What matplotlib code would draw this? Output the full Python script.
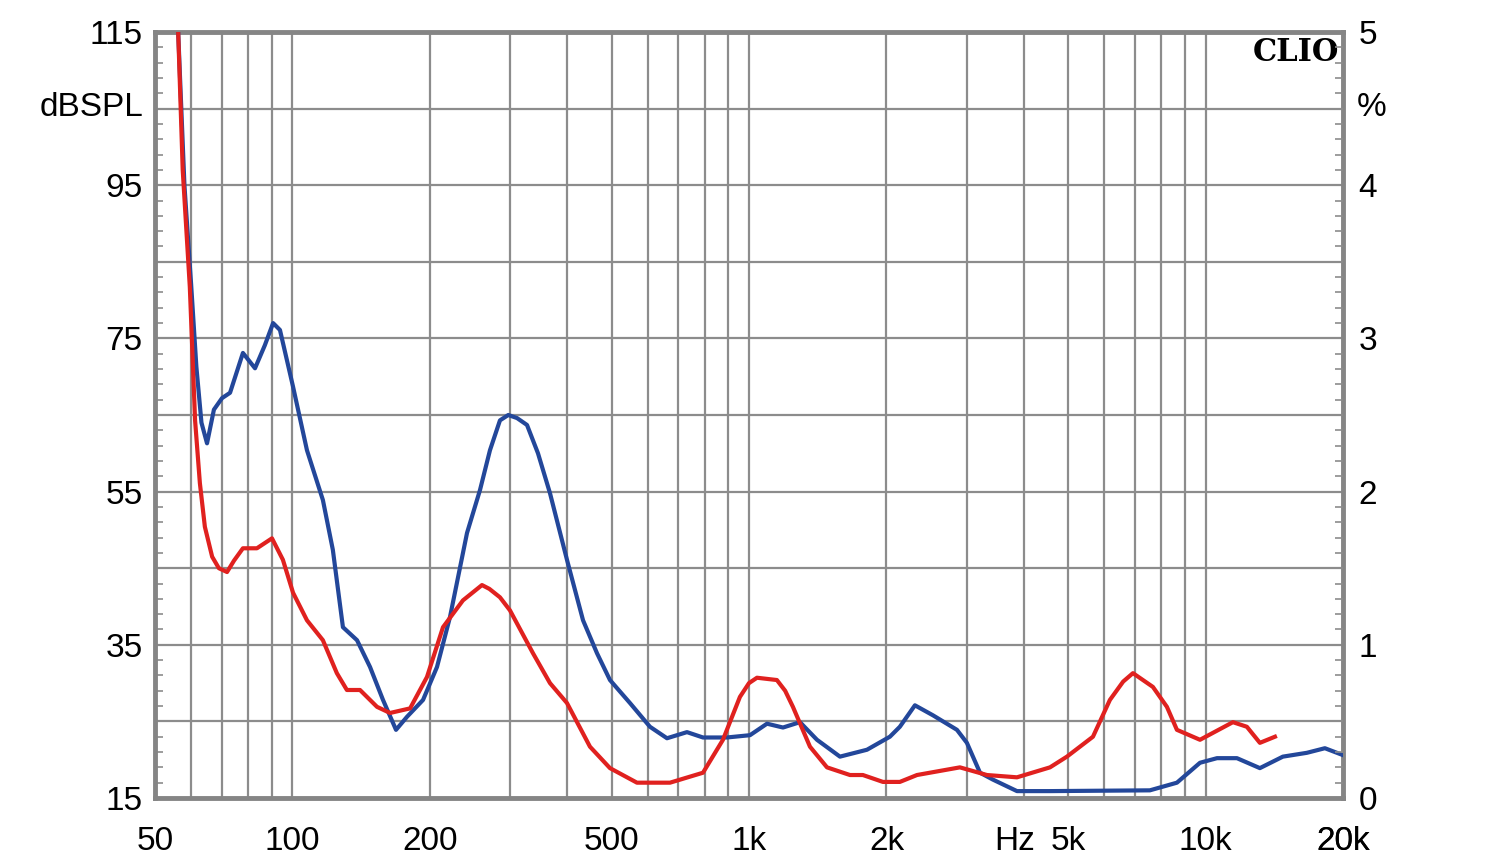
import matplotlib
matplotlib.use('Agg')
import matplotlib.pyplot as plt
from matplotlib.ticker import FixedLocator, NullFormatter

plt.rcParams['font.family'] = ['Liberation Sans', 'DejaVu Sans']

# blue curve (Hz, dBSPL)
blue_f = [56.2, 58.0, 60.0, 61.6, 63.2, 65.0, 67.3, 70.1, 73.0, 77.9, 82.8, 87.0, 90.7, 93.9, 100.3,
          107.6, 116.6, 122.6, 129.0, 138.5, 147.9, 157.9, 168.6, 178.2, 193.2,
          207.3, 221.3, 241.2, 257.5, 270.8, 284.8, 297.0, 310.4, 326.4, 345.0, 366.5, 399.3,
          433.0, 464.6, 496.0, 548.6, 606.8, 661.3, 731.4, 792.9, 894.6, 1005,
          1095, 1187, 1293, 1409, 1582, 1813, 2035, 2140, 2309, 2528, 2854, 3001,
          3206, 3422, 3863, 4563, 7551, 8655, 9723, 10594, 11714, 13152, 14768,
          16670, 18254, 19990]
blue_db = [115, 95.0, 82.0, 71.3, 64.0, 61.3, 65.7, 67.2, 67.9, 73.1, 71.1, 74.1, 77.0, 76.1, 68.7,
           60.4, 53.9, 47.4, 37.3, 35.6, 32.1, 27.8, 23.9, 25.6, 27.8,
           32.1, 38.6, 49.6, 55.2, 60.4, 64.3, 65.0, 64.6, 63.7, 60.0, 54.8, 46.1,
           38.2, 33.9, 30.4, 27.4, 24.3, 22.8, 23.6, 22.9, 22.9, 23.2,
           24.7, 24.2, 24.9, 22.6, 20.4, 21.3, 23.0, 24.3, 27.1, 25.8, 23.9, 22.2,
           18.3, 17.4, 15.9, 15.9, 16.0, 17.0, 19.6, 20.2, 20.2, 18.9, 20.4,
           20.9, 21.5, 20.6]

# red curve (Hz, dBSPL)
red_f = [56.2, 57.5, 59.6, 61.2, 62.7, 64.3, 66.7, 69.0, 71.9, 74.5, 77.9, 83.6, 90.2, 95.3,
         100.3, 107.6, 116.6, 125.1, 131.6, 140.6, 153.2, 163.6, 181.0, 197.1,
         213.7, 236.3, 260.1, 270.0, 284.8, 299.5, 336.4, 366.5, 399.3, 448.4, 496.0,
         568.3, 671.4, 792.9, 876.9, 955.3, 1000, 1041, 1151, 1200, 1248, 1360, 1482, 1664,
         1776, 1965, 2140, 2333, 2897, 3320, 3863, 4563, 4970, 5667, 6172, 6600, 6934,
         7668, 8229, 8655, 9723, 11479, 12316, 13152, 14190]
red_db = [115, 97.0, 81.7, 64.3, 56.1, 50.4, 46.5, 45.0, 44.5, 46.0, 47.6, 47.6, 48.9, 46.1,
          41.8, 38.2, 35.6, 31.3, 29.1, 29.1, 26.9, 26.1, 26.7, 30.8,
          37.3, 40.8, 42.8, 42.3, 41.2, 39.5, 33.9, 30.0, 27.4, 21.7, 18.9,
          17.0, 17.0, 18.3, 22.6, 28.2, 30.0, 30.7, 30.4, 29.0, 26.9, 21.7, 19.0, 18.0,
          18.0, 17.1, 17.1, 18.0, 19.0, 18.0, 17.7, 19.0, 20.4, 23.0, 27.8, 30.2, 31.3,
          29.5, 26.9, 23.9, 22.6, 24.9, 24.3, 22.2, 23.0]

x_labels = {50: '50', 100: '100', 200: '200', 500: '500', 1000: '1k',
            2000: '2k', 5000: '5k', 10000: '10k', 20000: '20k'}
y_labels = [115, 95, 75, 55, 35, 15]
pct_labels = [5, 4, 3, 2, 1, 0]

grid_f = [50, 60, 70, 80, 90]
for dec in [100, 1000, 10000]:
    grid_f += [dec * k for k in range(1, 10)]
grid_f = [f for f in grid_f if f <= 20000] + [20000]

fig = plt.figure(figsize=(15, 8.64), dpi=100)
ax = fig.add_axes([155 / 1500, 1 - 798 / 864, 1188 / 1500, 766 / 864])
ax.set_xscale('log')
ax.set_xlim(50, 20000)
ax.set_ylim(15, 115)

gcol = '#8c8c8c'
ax.set_xticks(grid_f)
ax.set_xticklabels([x_labels.get(f, '') for f in grid_f])
ax.xaxis.set_minor_locator(FixedLocator([]))
ax.xaxis.set_minor_formatter(NullFormatter())
ax.set_yticks(range(15, 116, 10))
ax.set_yticklabels([str(v) if v in y_labels else '' for v in range(15, 116, 10)])
ax.yaxis.set_minor_locator(FixedLocator(list(range(15, 116, 2))))
ax.grid(True, which='major', color=gcol, lw=1.6)
ax.tick_params(axis='x', which='major', length=0, pad=20, labelsize=24)
ax.tick_params(axis='y', which='major', length=0, pad=9, labelsize=24)
ax.tick_params(axis='y', which='minor', direction='in', length=6, width=1.2, color=gcol)
for s in ax.spines.values():
    s.set_color('#858585')
    s.set_linewidth(3.5)

ax.plot(blue_f, blue_db, color='#23479a', lw=3.0, zorder=3, solid_joinstyle='round')
ax.plot(red_f, red_db, color='#e0211f', lw=3.0, zorder=4, solid_joinstyle='round')

ax2 = ax.twinx()
ax2.set_ylim(0, 5)
ax2.set_yticks(pct_labels)
ax2.set_yticklabels([str(v) for v in pct_labels])
ax2.yaxis.set_minor_locator(FixedLocator([i / 10 for i in range(51)]))
ax2.tick_params(axis='y', which='major', length=0, pad=11, labelsize=24)
ax2.tick_params(axis='y', which='minor', direction='in', length=6, width=1.2, color=gcol)
for s in ax2.spines.values():
    s.set_visible(False)

fig.text(143 / 1500, 1 - 107 / 864, 'dBSPL', ha='right', va='center', fontsize=24)
fig.text(1357 / 1500, 1 - 107 / 864, '%', ha='left', va='center', fontsize=24)
fig.text(1015 / 1500, 1 - 841 / 864, 'Hz', ha='center', va='center', fontsize=24)
ax.text(0.997, 0.993, 'CLIO', transform=ax.transAxes, ha='right', va='top',
        fontsize=22, fontweight='bold', family='DejaVu Serif')

fig.savefig('out.png', dpi=100)
